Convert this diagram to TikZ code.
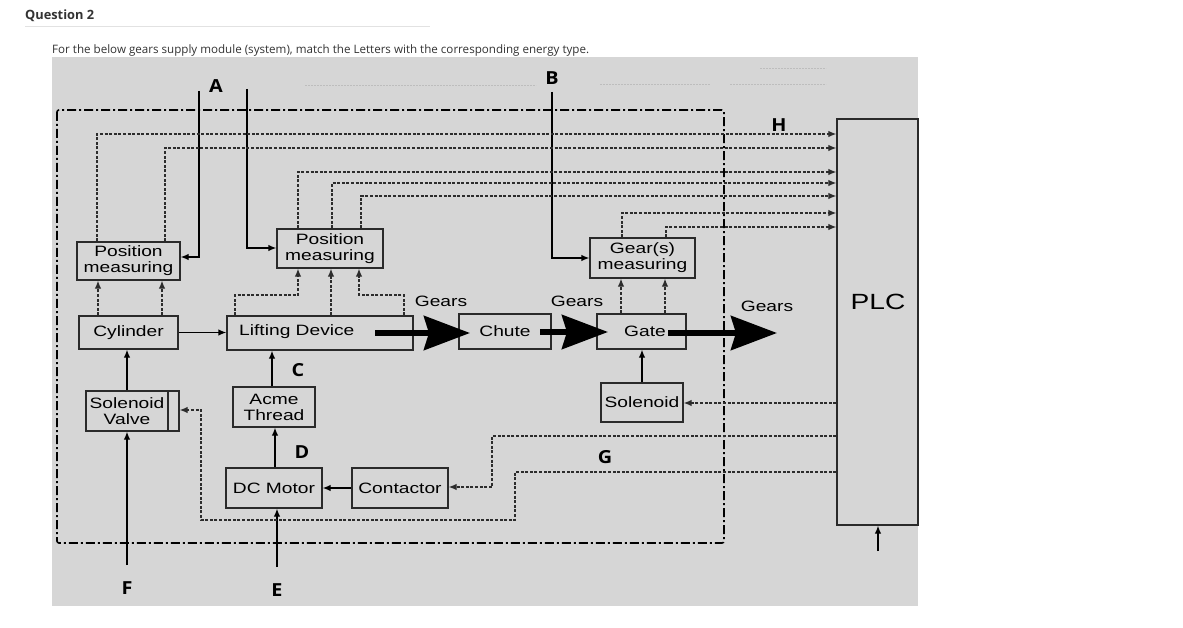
\documentclass[tikz,border=0pt]{standalone}
\usepackage{fontspec}
\setmainfont{Liberation Sans}
\newfontfamily\diagfont[FakeStretch=1.28]{Liberation Sans}
\newfontfamily\hdrfont{Open Sans}
\newfontfamily\letterfont[FakeStretch=1.1]{Open Sans}
\usetikzlibrary{arrows.meta}
\definecolor{panelc}{HTML}{D6D6D6}
\definecolor{boxc}{HTML}{2A2A2A}
\definecolor{sigc}{HTML}{2C2C2C}
\definecolor{hdrc}{HTML}{333333}
\definecolor{faintc}{HTML}{BDBDBD}
\definecolor{rulec}{HTML}{E2E2E2}
\tikzset{
  box/.style={draw=boxc, line width=1.3pt, inner sep=0pt, align=center,
    font=\diagfont\fontsize{15}{16}\selectfont},
  lbl/.style={inner sep=0pt, align=center, font=\diagfont\fontsize{15}{16}\selectfont},
  letter/.style={inner sep=0pt, font=\letterfont\bfseries\fontsize{18}{18}\selectfont},
  boxline/.style={draw=boxc, line width=1.3pt},
  flow/.style={draw=black, line width=1.3pt},
  sig/.style={draw=sigc, line width=1.2pt, dash pattern=on 3pt off 1.6pt},
  tipS/.style={-{Latex[length=8pt,width=6.5pt]}},
  gearflow/.style={draw=black, line width=6pt, -{Stealth[length=46pt,width=34pt,inset=5pt]}},
  bound/.style={draw=black, line width=1.6pt, dash pattern=on 9pt off 3pt on 2pt off 3pt},
  faint/.style={draw=faintc, line width=0.6pt, dash pattern=on 2pt off 1pt}
}
\begin{document}
\begin{tikzpicture}[x=1pt,y=-1pt]
\useasboundingbox (0,0) rectangle (1183,628);
\fill[white] (0,0) rectangle (1183,628);
% header
\node[anchor=west, inner sep=0pt, text=hdrc, font=\hdrfont\bfseries\fontsize{12.8}{14}\selectfont] (q) at (25,16) {Question 2};
\draw[rulec, line width=0.8pt] (25,26) -- (430,26);
\node[anchor=west, inner sep=0pt, text=hdrc, font=\hdrfont\fontsize{11.6}{13}\selectfont] (desc) at (52,50) {For the below gears supply module (system), match the Letters with the corresponding energy type.};
% panel
\fill[panelc] (52,57) rectangle (918,606);
\draw[faint] (305,85) -- (536,85);
\draw[faint] (600,84) -- (710,84);
\draw[faint] (730,84) -- (826,84);
\draw[faint] (760,68) -- (826,68);
% boundary
\draw[bound, rounded corners=2pt] (57,110) rectangle (724,543);

% boxes
\node[box, minimum width=103pt, minimum height=38pt] (pmL) at (128.5,261) {Position\\measuring};
\node[box, minimum width=99pt, minimum height=33pt] (cyl) at (128.5,332.5) {Cylinder};
\node[box, minimum width=93pt, minimum height=40pt] (sv) at (132.5,411) {};
\draw[boxline] (168,0 |- sv.north) -- (168,0 |- sv.south);
\node[lbl] (svt) at (127,411) {Solenoid\\Valve};
\node[box, minimum width=106pt, minimum height=39pt] (pmM) at (330,248.5) {Position\\measuring};
\node[box, minimum width=186pt, minimum height=34pt] (lift) at (320,333) {};
\node[lbl, anchor=west] (liftt) at (239,332) {Lifting Device};
\node[box, minimum width=82pt, minimum height=40pt] (acme) at (274,407) {Acme\\Thread};
\node[box, minimum width=96pt, minimum height=40pt] (dcm) at (274,488) {DC Motor};
\node[box, minimum width=96pt, minimum height=40pt] (cont) at (400,488) {Contactor};
\node[box, minimum width=92pt, minimum height=35pt] (chute) at (505,331.5) {Chute};
\node[box, minimum width=89pt, minimum height=35pt] (gate) at (641.5,331.5) {};
\node[lbl] (gatet) at (645,331) {Gate};
\node[box, minimum width=105pt, minimum height=40pt] (gm) at (642.5,258) {Gear(s)\\measuring};
\node[box, minimum width=82pt, minimum height=39pt] (sol) at (642,402.5) {Solenoid};
\node[draw=boxc, line width=1.3pt, minimum width=81pt, minimum height=406pt, inner sep=0pt] (plc) at (877.5,322) {};
\node[lbl, font=\diagfont\fontsize{22}{22}\selectfont] (plct) at (878,302) {PLC};

% labels
\node[letter] (la) at (216,86) {A};
\node[letter] (lb) at (552,78) {B};
\node[letter] (lh) at (779,125) {H};
\node[letter] (lc) at (298,370) {C};
\node[letter] (ld) at (302,452) {D};
\node[letter] (lg) at (605,457) {G};
\node[letter] (lf) at (127,588) {F};
\node[letter] (le) at (277,590) {E};
\node[lbl] (g1) at (441,301) {Gears};
\node[lbl] (g2) at (577,301) {Gears};
\node[lbl] (g3) at (767,306) {Gears};

% solid connectors
\coordinate (Atop) at (199,91);
\coordinate (Mtop) at (247,89);
\coordinate (Btop) at (552,92);
\coordinate (Fbot) at (127,565);
\coordinate (Ebot) at (277,567);
\coordinate (Pbot) at (878,551);
\draw[flow, tipS] (Atop) |- (pmL.east |- 0,257);
\draw[flow, tipS] (Mtop) |- (pmM.west |- 0,248);
\draw[flow, tipS] (Btop) |- (gm.west |- 0,258);
\draw[flow, tipS] (cyl.east) -- (lift.west |- cyl.east);
\draw[flow, tipS] (127,0 |- sv.north) -- (127,0 |- cyl.south);
\draw[flow, tipS] (Fbot) -- (Fbot |- sv.south);
\draw[flow, tipS] (272,0 |- acme.north) -- (272,0 |- lift.south);
\draw[flow, tipS] (275,0 |- dcm.north) -- (275,0 |- acme.south);
\draw[flow, tipS] (Ebot) -- (Ebot |- dcm.south);
\draw[flow, tipS] (cont.west) -- (dcm.east);
\draw[flow, tipS] (sol.north) -- (sol.north |- gate.south);
\draw[flow, tipS] (Pbot) -- (Pbot |- plc.south);

% dashed measurement connectors
\draw[sig, tipS] (98,0 |- cyl.north) -- (98,0 |- pmL.south);
\draw[sig, tipS] (162,0 |- cyl.north) -- (162,0 |- pmL.south);
\draw[sig, tipS] (235,0 |- lift.north) -- (235,295) -- (298,295) -- (298,0 |- pmM.south);
\draw[sig, tipS] (331,0 |- lift.north) -- (331,0 |- pmM.south);
\draw[sig, tipS] (404,0 |- lift.north) -- (404,295) -- (359,295) -- (359,0 |- pmM.south);
\draw[sig, tipS] (621,0 |- gate.north) -- (621,0 |- gm.south);
\draw[sig, tipS] (665,0 |- gate.north) -- (665,0 |- gm.south);

% dashed to PLC
\draw[sig, tipS] (97,0 |- pmL.north) |- (plc.west |- 0,134);
\draw[sig, tipS] (165,0 |- pmL.north) |- (plc.west |- 0,148);
\draw[sig, tipS] (298,0 |- pmM.north) |- (plc.west |- 0,172);
\draw[sig, tipS] (332,0 |- pmM.north) |- (plc.west |- 0,183);
\draw[sig, tipS] (361,0 |- pmM.north) |- (plc.west |- 0,196);
\draw[sig, tipS] (622,0 |- gm.north) |- (plc.west |- 0,213);
\draw[sig, tipS] (666,0 |- gm.north) |- (plc.west |- 0,227);

% dashed from PLC
\draw[sig, tipS] (plc.west |- 0,403) -- (sol.east |- 0,403);
\draw[sig, tipS] (plc.west |- 0,436) -| (492,487) -- (cont.east |- 0,487);
\draw[sig, tipS] (plc.west |- 0,472) -- (515,472) -- (515,520) -- (201,520) -- (201,410) -- (sv.east |- 0,410);

% gear flow arrows
\coordinate (f1s) at (375,333);
\coordinate (f1e) at (470,333);
\coordinate (f2s) at (540,332);
\coordinate (f2e) at (608,332);
\coordinate (f3s) at (668,333);
\coordinate (f3e) at (777,333);
\draw[gearflow] (f1s) -- (f1e);
\draw[gearflow] (f2s) -- (f2e);
\draw[gearflow] (f3s) -- (f3e);
\end{tikzpicture}
\end{document}
